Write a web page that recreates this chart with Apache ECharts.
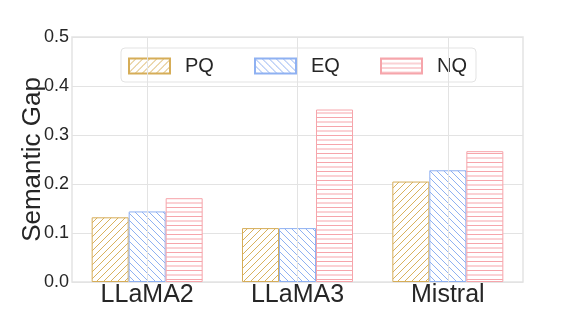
<!DOCTYPE html>
<html>
<head>
<meta charset="utf-8">
<script src="https://cdn.jsdelivr.net/npm/echarts@6/dist/echarts.min.js"></script>
<style>html,body{margin:0;padding:0;background:#fff;}#c{width:581px;height:317px;}</style>
</head>
<body>
<div id="c"></div>
<script>
const categories = ['LLaMA2', 'LLaMA3', 'Mistral'];
const seriesNames = ['PQ', 'EQ', 'NQ'];
const pqValues = [0.132, 0.110, 0.205];
const eqValues = [0.144, 0.110, 0.228];
const nqValues = [0.171, 0.352, 0.267];
const yTicks = [0.0, 0.1, 0.2, 0.3, 0.4, 0.5];

function hatch(color, type) {
  const c = document.createElement('canvas');
  let w = 7, h = 7;
  if (type === '-') { w = 9; h = 9; }
  c.width = w; c.height = h;
  const g = c.getContext('2d');
  g.fillStyle = '#fff';
  g.fillRect(0, 0, w, h);
  g.strokeStyle = color;
  g.lineWidth = 1;
  g.beginPath();
  if (type === '/') {
    g.moveTo(-1, h + 1); g.lineTo(w + 1, -1);
    g.moveTo(-1, 1); g.lineTo(1, -1);
    g.moveTo(w - 1, h + 1); g.lineTo(w + 1, h - 1);
  } else if (type === '\\') {
    g.moveTo(-1, -1); g.lineTo(w + 1, h + 1);
    g.moveTo(w - 1, -1); g.lineTo(w + 1, 1);
    g.moveTo(-1, h - 1); g.lineTo(1, h + 1);
  } else {
    g.moveTo(0, 0.5); g.lineTo(w, 0.5);
    g.moveTo(0, 5); g.lineTo(w, 5);
  }
  g.stroke();
  return { image: c, repeat: 'repeat' };
}

const styles = [
  { line: '#d9b25e', border: '#d6ad58', type: '/' },
  { line: '#8fb1f2', border: '#8fb1f2', type: '\\' },
  { line: '#f6a5ab', border: '#f6a5ab', type: '-' }
];
const values = [pqValues, eqValues, nqValues];
const font = 'Liberation Sans, Arial, sans-serif';
const txt = '#262626';

const barSeries = seriesNames.map((n, i) => ({
  name: n,
  type: 'bar',
  data: values[i],
  barWidth: 37,
  barGap: '0%',
  z: 2,
  itemStyle: {
    color: hatch(styles[i].line, styles[i].type),
    borderColor: styles[i].border,
    borderWidth: 1
  }
}));

const legendLefts = [123, 249, 375];
const legends = seriesNames.map((n, i) => ({
  data: [n],
  left: legendLefts[i],
  top: 51,
  itemWidth: 41,
  itemHeight: 15,
  icon: 'rect',
  z: 5,
  textStyle: { fontSize: 20, color: txt, fontFamily: font, padding: [0, 0, 0, 10] }
}));

const chart = echarts.init(document.getElementById('c'));
chart.setOption({
  animation: false,
  backgroundColor: '#fff',
  grid: { left: 72, right: 58, top: 37, bottom: 35, show: true, borderColor: '#e3e3e3', borderWidth: 1.5 },
  legend: legends,
  graphic: [{
    type: 'rect', z: 3,
    shape: { x: 121, y: 48, width: 355, height: 34, r: 4 },
    style: { fill: '#fff', stroke: '#e3e3e3', lineWidth: 1 }
  }],
  xAxis: {
    type: 'category',
    data: categories,
    axisLine: { show: false },
    axisTick: { show: false },
    splitLine: { show: false },
    axisLabel: { fontSize: 25, color: txt, fontFamily: font, margin: 1 }
  },
  yAxis: {
    type: 'value',
    min: 0, max: 0.5, interval: 0.1,
    name: 'Semantic Gap',
    nameLocation: 'middle',
    nameGap: 26,
    nameMoveOverlap: false,
    nameTextStyle: { fontSize: 26, color: txt, fontFamily: font },
    axisLine: { show: false },
    axisTick: { show: false },
    splitLine: { lineStyle: { color: '#e3e3e3', width: 1 } },
    axisLabel: {
      fontSize: 18, color: txt, fontFamily: font, margin: 3,
      formatter: v => { const t = yTicks.find(x => Math.abs(x - v) < 1e-9); return (t !== undefined ? t : v).toFixed(1); }
    }
  },
  series: [{
    name: '_grid',
    type: 'line',
    data: [],
    z: 1,
    silent: true,
    markLine: {
      silent: true,
      symbol: 'none',
      label: { show: false },
      lineStyle: { color: '#e3e3e3', type: 'solid', width: 1 },
      data: categories.map(c => ({ xAxis: c }))
    }
  }].concat(barSeries)
});
</script>
</body>
</html>
